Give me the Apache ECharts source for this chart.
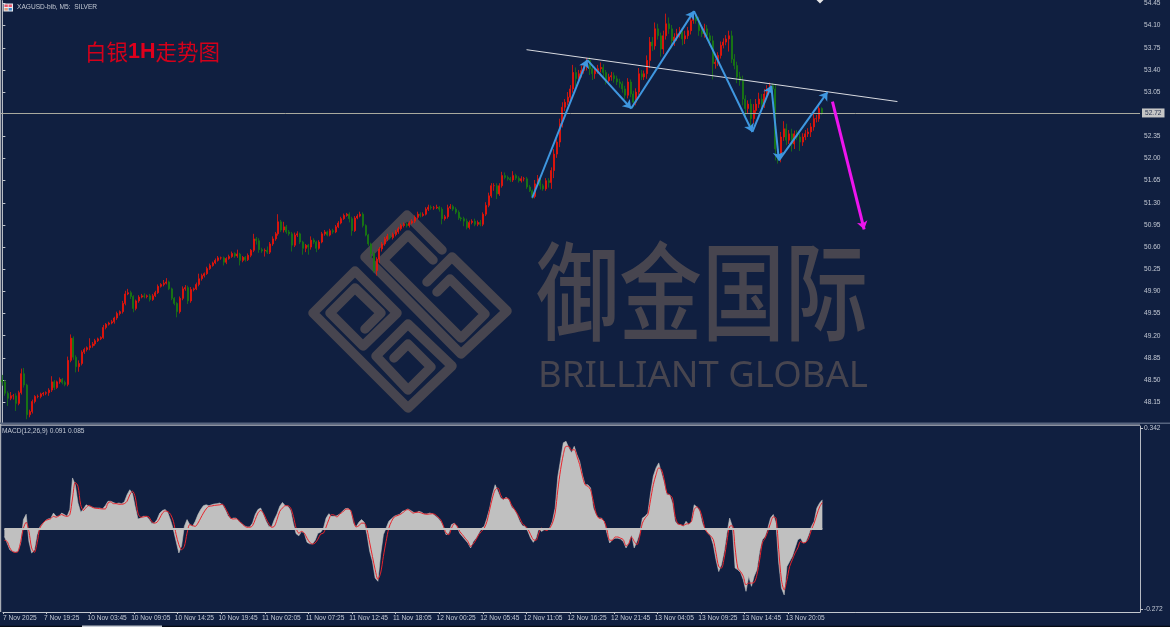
<!DOCTYPE html>
<html><head><meta charset="utf-8">
<style>html,body{margin:0;padding:0;background:#101f40}#c{width:1170px;height:627px}</style>
<script src="https://cdn.jsdelivr.net/npm/echarts@6/dist/echarts.min.js"></script>
</head><body><div id="c"></div>
<script>
const tickLabels=['7 Nov 2025','7 Nov 19:25','10 Nov 03:45','10 Nov 09:05','10 Nov 14:25','10 Nov 19:45','11 Nov 02:05','11 Nov 07:25','11 Nov 12:45','11 Nov 18:05','12 Nov 00:25','12 Nov 05:45','12 Nov 11:05','12 Nov 16:25','12 Nov 21:45','13 Nov 04:05','13 Nov 09:25','13 Nov 14:45','13 Nov 20:05'];
const priceTicks=[54.45,54.10,53.75,53.40,53.05,52.35,52.00,51.65,51.30,50.95,50.60,50.25,49.90,49.55,49.20,48.85,48.50,48.15];
const macdTicks=[0.342,-0.272];
const lastPrice=52.72;
const closes=[48.47,48.29,48.21,48.25,48.25,48.13,48.30,48.60,48.42,47.95,48.00,48.16,48.24,48.24,48.28,48.29,48.30,48.34,48.47,48.38,
48.47,48.51,48.46,48.43,48.81,49.16,48.86,48.71,48.76,48.94,48.98,49.01,49.04,49.07,49.12,49.15,49.17,49.33,49.38,49.40,
49.42,49.48,49.55,49.58,49.71,49.86,49.88,49.82,49.63,49.75,49.81,49.83,49.82,49.83,49.77,49.83,49.88,49.98,50.01,50.03,
50.05,49.94,49.79,49.71,49.58,49.79,49.94,49.96,49.75,49.93,49.94,50.01,50.10,50.15,50.18,50.26,50.31,50.35,50.39,50.43,
50.43,50.36,50.42,50.45,50.50,50.46,50.49,50.39,50.44,50.40,50.47,50.55,50.73,50.70,50.56,50.54,50.55,50.52,50.65,50.73,
50.81,51.00,50.87,50.92,50.84,50.81,50.63,50.79,50.81,50.68,50.58,50.63,50.60,50.71,50.68,50.58,50.68,50.81,50.84,50.79,
50.86,50.84,50.92,50.98,51.05,51.10,51.12,51.05,50.86,51.06,51.09,51.12,50.94,50.79,50.65,50.50,50.23,50.41,50.57,50.65,
50.73,50.77,50.75,50.80,50.84,50.89,50.94,50.96,50.94,50.98,51.01,51.07,51.12,51.10,51.12,51.20,51.23,51.22,51.22,51.23,
51.20,51.05,51.08,51.22,51.24,51.20,51.15,51.06,51.05,51.01,50.91,50.99,51.01,50.96,50.99,50.96,51.12,51.26,51.41,51.57,
51.57,51.44,51.57,51.73,51.70,51.68,51.66,51.73,51.69,51.65,51.68,51.68,51.55,51.49,51.40,51.60,51.68,51.57,51.52,51.65,
51.62,51.81,52.07,52.26,52.55,52.81,52.89,52.97,53.10,53.36,53.26,53.34,53.39,53.44,53.55,53.42,53.34,53.39,53.42,53.44,
53.36,53.23,53.29,53.31,53.26,53.21,53.18,53.10,53.00,53.21,53.02,52.89,53.05,53.34,53.29,53.34,53.55,53.84,53.78,54.05,
53.94,53.73,53.94,54.13,54.05,53.86,53.92,53.97,54.00,53.89,53.94,54.02,54.18,54.22,54.18,54.02,53.97,54.05,53.94,53.86,
53.50,53.52,53.63,53.79,53.84,53.89,53.94,53.57,53.47,53.29,53.23,52.94,52.79,52.86,52.63,52.76,52.86,52.94,52.86,53.02,
53.10,53.15,53.10,52.15,52.02,52.34,52.47,52.29,52.39,52.23,52.39,52.34,52.26,52.34,52.39,52.42,52.50,52.63,52.63,52.79,52.72];
const wickUpCents=[8,3,3,6,3,4,3,8,9,2,3,3,2,3,2,2,2,3,9,3,
2,3,2,3,6,6,3,3,5,3,3,2,12,3,3,2,2,4,2,2,
3,2,3,2,4,5,6,3,2,2,3,3,4,2,3,3,3,3,2,5,
6,2,2,2,2,3,4,4,3,4,2,3,8,3,2,3,3,2,3,3,
2,2,2,3,3,2,7,2,2,2,3,2,8,3,4,3,3,6,3,4,
3,12,3,8,3,3,3,4,4,2,2,2,2,6,3,2,3,3,3,2,
3,3,3,3,3,3,2,3,3,3,3,4,3,2,2,2,3,3,3,3,
3,4,3,3,3,3,3,3,3,3,3,3,4,3,3,3,4,3,3,4,
2,3,3,5,4,3,3,3,2,3,4,3,3,4,3,4,3,5,5,4,
4,4,4,6,5,3,3,7,3,3,4,3,3,3,2,6,6,4,3,4,
4,5,8,10,8,8,5,8,6,12,8,6,8,6,4,5,4,6,6,8,
5,4,5,6,5,5,5,4,5,6,4,5,6,9,6,5,8,8,8,10,
8,5,8,16,10,6,6,8,8,6,8,6,5,4,5,6,5,8,6,5,
8,5,5,6,6,6,8,8,8,6,8,8,6,6,8,10,8,10,8,8,
6,5,4,8,8,8,12,8,6,8,5,6,5,6,6,6,6,8,6,5,2];
const wickDownCents=[6,4,12,3,6,12,3,3,4,7,4,3,3,3,3,3,3,5,3,4,
2,3,3,3,3,3,4,9,8,3,3,3,4,3,3,2,2,2,3,2,
2,3,3,3,3,3,2,4,6,3,3,2,3,3,3,2,2,2,2,3,
2,2,3,3,9,3,3,3,5,3,3,2,3,3,3,2,2,2,2,2,
3,5,3,2,2,3,3,8,3,3,2,3,3,6,5,3,9,3,3,3,
3,3,3,4,3,3,10,3,3,3,10,6,12,4,3,6,2,2,3,2,
2,3,2,2,2,2,2,6,8,2,2,2,3,2,3,6,3,8,6,4,
3,3,3,3,3,3,3,3,3,3,2,3,3,3,2,2,3,3,3,2,
4,9,3,3,2,3,3,3,4,8,3,3,3,3,3,3,3,3,3,3,
8,8,3,3,3,3,3,3,3,3,3,4,3,2,4,3,3,6,3,3,
8,10,12,6,8,6,6,5,8,6,12,6,6,5,5,10,10,8,5,6,
8,6,6,6,6,5,6,6,6,5,5,8,5,5,5,5,8,12,8,6,
6,12,8,6,8,12,8,6,6,10,8,5,6,5,5,8,5,6,5,8,
25,8,6,5,5,5,20,6,6,10,8,10,12,8,12,8,6,6,6,6,
5,4,5,18,10,8,6,8,6,12,8,5,14,6,5,5,8,6,6,5,3];
const macdMilli=[-25,-47,-70,-76,-78,-76,-47,32,50,-42,-81,-72,-19,7,18,28,34,36,54,43,
43,54,49,43,66,173,150,88,57,68,82,77,75,71,71,71,68,79,94,94,
90,86,88,86,92,116,133,120,75,34,37,43,43,34,20,20,32,54,63,66,
54,29,-2,-42,-81,-57,9,32,15,9,26,49,66,79,82,79,82,85,86,88,
82,66,45,34,37,37,26,18,11,7,7,20,49,66,71,49,26,9,7,32,
51,77,90,79,77,63,18,-16,-23,-8,-14,-45,-50,-50,-38,-14,-11,2,37,52,
43,43,45,51,60,69,70,63,20,7,23,32,23,-19,-76,-110,-166,-177,-87,-19,
3,26,35,43,47,50,
60,63,68,63,57,54,60,57,51,51,54,52,45,37,26,9,-19,-14,15,20,9,-14,-25,-36,-47,-64,-42,-31,-14,3,9,37,71,116,150,128,105,99,108,99,75,66,49,26,11,9,-8,-31,-45,-31,3,-8,-2,-2,3,26,71,179,235,292,297,275,258,280,252,229,184,150,150,139,71,49,37,37,26,-14,-47,-36,-31,-31,-34,-42,-64,-47,-19,-64,-42,-14,37,43,54,122,179,207,224,190,156,116,116,88,26,15,15,9,26,15,26,82,75,60,20,-2,-14,-23,-53,-104,-144,-121,-76,-14,37,9,-132,-138,-147,-172,-211,-160,-194,-160,-138,-76,-36,-25,3,37,49,20,-115,-200,-223,-127,-110,-93,-64,-36,-31,-47,-42,-19,9,26,71,88,99];
const signalMilli=[-38,-42,-64,-76,-79,-76,-42,3,23,-8,-64,-79,-47,3,18,28,32,35,43,40,
45,49,45,43,49,105,158,145,82,63,73,80,75,71,70,69,68,68,88,92,
86,86,84,84,86,94,116,128,108,54,40,41,43,41,26,20,23,37,54,61,
59,49,26,-19,-53,-70,-59,-14,15,12,9,20,37,54,68,77,78,80,81,82,
84,71,54,37,34,35,29,20,11,6,6,11,32,54,63,54,34,18,6,
9,32,60,71,79,79,71,43,3,-14,-8,-14,-31,-45,-51,-47,-34,-17,-14,7,
32,49,47,41,51,57,66,68,63,32,7,11,20,20,-2,-47,-93,-138,-170,
-149,-93,-42,3,26,41,45,49,
54,63,66,60,54,57,57,54,51,50,51,52,49,41,32,11,-14,-19,3,18,11,-8,-19,-31,-42,-59,-50,-36,-19,-8,3,26,66,105,133,139,116,102,105,102,82,68,54,37,18,11,0,-19,-36,-38,-14,3,-2,-5,3,20,54,133,201,252,280,280,267,269,246,218,179,150,145,133,94,54,37,35,26,-2,-38,-38,-27,-27,-31,-36,-57,-50,-27,-42,-53,-25,20,37,49,99,150,184,207,201,167,122,116,105,43,18,15,12,17,18,26,66,75,66,37,0,-14,-23,-36,-81,-127,-132,-98,-42,9,11,-64,-132,-144,-160,-189,-183,-183,-181,-155,-104,-47,-31,-8,20,41,37,-70,-172,-206,-172,-127,-104,-81,-64,-42,-47,-45,-31,-2,20,49,75,90];
const zigBars=[194.0,214.1,214.1,230.2,230.2,253.2,253.2,274.6,274.6,281.5,281.5,284.3,284.3,302.1];
const zigPrices=[51.38,53.56,53.56,52.79,52.79,54.33,54.33,52.42,52.42,53.15,53.15,51.97,51.97,53.05];
const trendBars=[191.9,327.7];
const trendPrices=[53.72,52.90];
const forecastBars=[303.9,315.5];
const forecastPrices=[52.90,50.88];

const SLOTS=417;
const categories=[];for(let i=0;i<SLOTS;i++)categories.push('');
const tickCategories=[];for(let i=0;i<=SLOTS;i++)tickCategories.push('');
tickLabels.forEach((t,k)=>{tickCategories[k?k*16-1:0]=t;});
const labelled=i=>i%16===0&&i/16<tickLabels.length;
const labelAt=i=>i===0||((i+1)%16===0&&(i+1)/16<tickLabels.length);
const candles=closes.map((c,i)=>{const o=i?closes[i-1]:c+0.03;return [o,c,+(Math.min(o,c)-wickDownCents[i]/100).toFixed(2),+(Math.max(o,c)+wickUpCents[i]/100).toFixed(2)];});
const hist=macdMilli.slice(0,301).map(v=>v/1000);
const sig=signalMilli.slice(0,301).map(v=>v/1000);
const segs=[];for(let i=0;i<zigBars.length;i+=2)segs.push({coords:[[zigBars[i],zigPrices[i]],[zigBars[i+1],zigPrices[i+1]]]});

const TXT='#c3c9d4',FONT='"Liberation Sans",sans-serif',WM='#47454f';
const logoPaths=[
 [[365,329],[381,313],[355,288],[330,313],[363,346],[397,313],[355,271],[313,313],[408,408],[452,366],[408,324],[376,356],[408,390],[431,367],[408,344],[394,358]],
 [[442,250],[407,215],[365,257],[461,354],[507,311],[452,257],[427,282]],
 [[433,260],[408,235],[383,260],[461,338],[485,314],[450,279],[437,292]]
];
const graphics=logoPaths.map(p=>({type:'polyline',z:0,silent:true,shape:{points:p},style:{stroke:WM,fill:'none',lineWidth:9.5,lineJoin:'round',lineCap:'round'}}));
graphics.push(
 {type:'text',z:0,x:536,y:238,scaleY:1.29,silent:true,style:{text:'御金国际',fill:WM,font:'500 83px "Noto Sans CJK SC"'}},
 {type:'text',z:0,x:538,y:358,silent:true,style:{text:'BRILLIANT GLOBAL',fill:WM,font:'400 36.5px "Noto Sans"'}},
 {type:'text',z:5,x:85,y:41,silent:true,style:{text:'{a|白银}{b|1H}{a|走势图}',fill:'#d4001a',rich:{
   a:{fill:'#d4001a',font:'400 21.5px "Noto Sans CJK SC"'},
   b:{fill:'#e0001c',font:'700 21.5px "Liberation Sans"'}}}},
 {type:'text',z:5,x:17,y:3.5,silent:true,style:{text:'XAGUSD-bib, M5:  SILVER',fill:TXT,font:'6.6px '+FONT}},
 {type:'text',z:5,x:2,y:427.5,silent:true,style:{text:'MACD(12,26,9) 0.091 0.085',fill:TXT,font:'6.6px '+FONT}},
 {type:'rect',z:5,shape:{x:3.5,y:3.5,width:9.5,height:8},style:{fill:'#e8ecf2'}},
 {type:'rect',z:6,shape:{x:4.5,y:4.5,width:3.3,height:2.5},style:{fill:'#e8556a'}},
 {type:'rect',z:6,shape:{x:8.6,y:4.5,width:3.3,height:2.5},style:{fill:'#e8556a'}},
 {type:'rect',z:6,shape:{x:4.5,y:8,width:3.3,height:2.5},style:{fill:'#e09a78'}},
 {type:'rect',z:6,shape:{x:8.6,y:8,width:3.3,height:2.5},style:{fill:'#3f86c8'}},
 {type:'rect',z:1,shape:{x:0,y:0,width:1.2,height:612},style:{fill:'#a8acb4'}},
 {type:'rect',z:1,shape:{x:0,y:422.5,width:1170,height:1.6},style:{fill:'#56647f'}},
 {type:'rect',z:1,shape:{x:0,y:424.6,width:1140,height:1.2},style:{fill:'#b6bac2'}},
 {type:'rect',z:1,shape:{x:0,y:625.8,width:1170,height:1.4},style:{fill:'#050a14'}},
 {type:'rect',z:2,shape:{x:82,y:625.6,width:80,height:1.4},style:{fill:'#c6cbd4'}},
 {type:'polygon',z:5,shape:{points:[[816.5,0],[823.5,0],[820,3.5]]},style:{fill:'#e6e6e6'}}
);

const chart=echarts.init(document.getElementById('c'),null,{renderer:'canvas',width:1170,height:627});
chart.setOption({
 animation:false,backgroundColor:'#101f40',
 tooltip:{show:false},
 graphic:{elements:graphics},
 grid:[{left:1,width:1139,top:0,height:423},{left:1,width:1139,top:426,height:186}],
 xAxis:[
  {type:'category',gridIndex:0,data:categories,boundaryGap:true,show:false},
  {type:'category',gridIndex:1,data:categories,boundaryGap:true,
   axisLine:{show:true,onZero:false,lineStyle:{color:'#c3c7ce',width:1}},
   axisTick:{show:false},axisLabel:{show:false},splitLine:{show:false}},
  {type:'value',gridIndex:0,min:-0.5,max:SLOTS-0.5,show:false},
  {type:'category',gridIndex:1,position:'bottom',data:tickCategories,boundaryGap:false,
   axisLine:{show:false,onZero:false},
   axisTick:{show:true,interval:labelled,length:2,lineStyle:{color:'#c3c7ce'}},
   axisLabel:{interval:labelAt,align:'left',margin:3,color:TXT,fontSize:6.6,fontFamily:FONT,hideOverlap:false,showMinLabel:true},
   splitLine:{show:false}}
 ],
 yAxis:[
  {type:'value',gridIndex:0,position:'right',min:47.82,max:54.495,scale:true,
   axisLine:{show:true,lineStyle:{color:'#b6bac2',width:1}},
   axisTick:{show:true,length:3,customValues:priceTicks,lineStyle:{color:'#c3c7ce'}},
   axisLabel:{customValues:priceTicks,formatter:v=>v.toFixed(2),margin:4,color:TXT,fontSize:6.6,fontFamily:FONT},
   splitLine:{show:false}},
  {type:'value',gridIndex:1,position:'right',min:-0.281,max:0.349,
   axisLine:{show:true,onZero:false,lineStyle:{color:'#b6bac2',width:1}},
   axisTick:{show:true,length:3,customValues:macdTicks,lineStyle:{color:'#c3c7ce'}},
   axisLabel:{customValues:macdTicks,formatter:v=>v.toFixed(3),margin:4,color:TXT,fontSize:6.6,fontFamily:FONT},
   splitLine:{show:false}}
 ],
 series:[
  {type:'candlestick',xAxisIndex:0,yAxisIndex:0,data:candles,barWidth:1.5,z:3,silent:true,
   itemStyle:{color:'#ff0a0a',color0:'#0f8a12',borderColor:'#ee1508',borderColor0:'#1a7a10',borderWidth:0.8},
   markLine:{silent:true,symbol:'none',animation:false,z:4,lineStyle:{color:'#a9a99e',width:1,type:'solid'},
    label:{show:true,position:'end',formatter:String(lastPrice),color:'#2a3550',backgroundColor:'#c6c6c6',fontSize:6.6,fontFamily:FONT,padding:[1,3,1,3],distance:2},
    data:[{yAxis:lastPrice}]}},
  {type:'lines',coordinateSystem:'cartesian2d',xAxisIndex:2,yAxisIndex:0,z:5,silent:true,symbol:'none',
   lineStyle:{color:'#d8dae0',width:1,opacity:1},
   data:[{coords:[[trendBars[0],trendPrices[0]],[trendBars[1],trendPrices[1]]]}]},
  {type:'lines',coordinateSystem:'cartesian2d',xAxisIndex:2,yAxisIndex:0,z:6,silent:true,symbol:['none','arrow'],symbolSize:8,
   lineStyle:{color:'#3f97e0',width:2,opacity:1},data:segs},
  {type:'lines',coordinateSystem:'cartesian2d',xAxisIndex:2,yAxisIndex:0,z:7,silent:true,symbol:['none','arrow'],symbolSize:8,
   lineStyle:{color:'#ee14ee',width:3,opacity:1},
   data:[{coords:[[forecastBars[0],forecastPrices[0]],[forecastBars[1],forecastPrices[1]]]}]},
  {type:'line',xAxisIndex:1,yAxisIndex:1,data:hist,showSymbol:false,z:2,silent:true,
   lineStyle:{width:0.6,color:'#c0c0c0'},areaStyle:{color:'#c0c0c0',opacity:1,origin:0},
   markLine:{silent:true,symbol:'none',animation:false,lineStyle:{color:'#c0c0c0',width:2,type:'solid'},label:{show:false},
    data:[[{coord:[0,0]},{coord:[300,0]}]]}},
  {type:'line',xAxisIndex:1,yAxisIndex:1,data:sig,showSymbol:false,smooth:0.3,z:3,silent:true,lineStyle:{color:'#e8242c',width:1}}
 ]
});
</script></body></html>
